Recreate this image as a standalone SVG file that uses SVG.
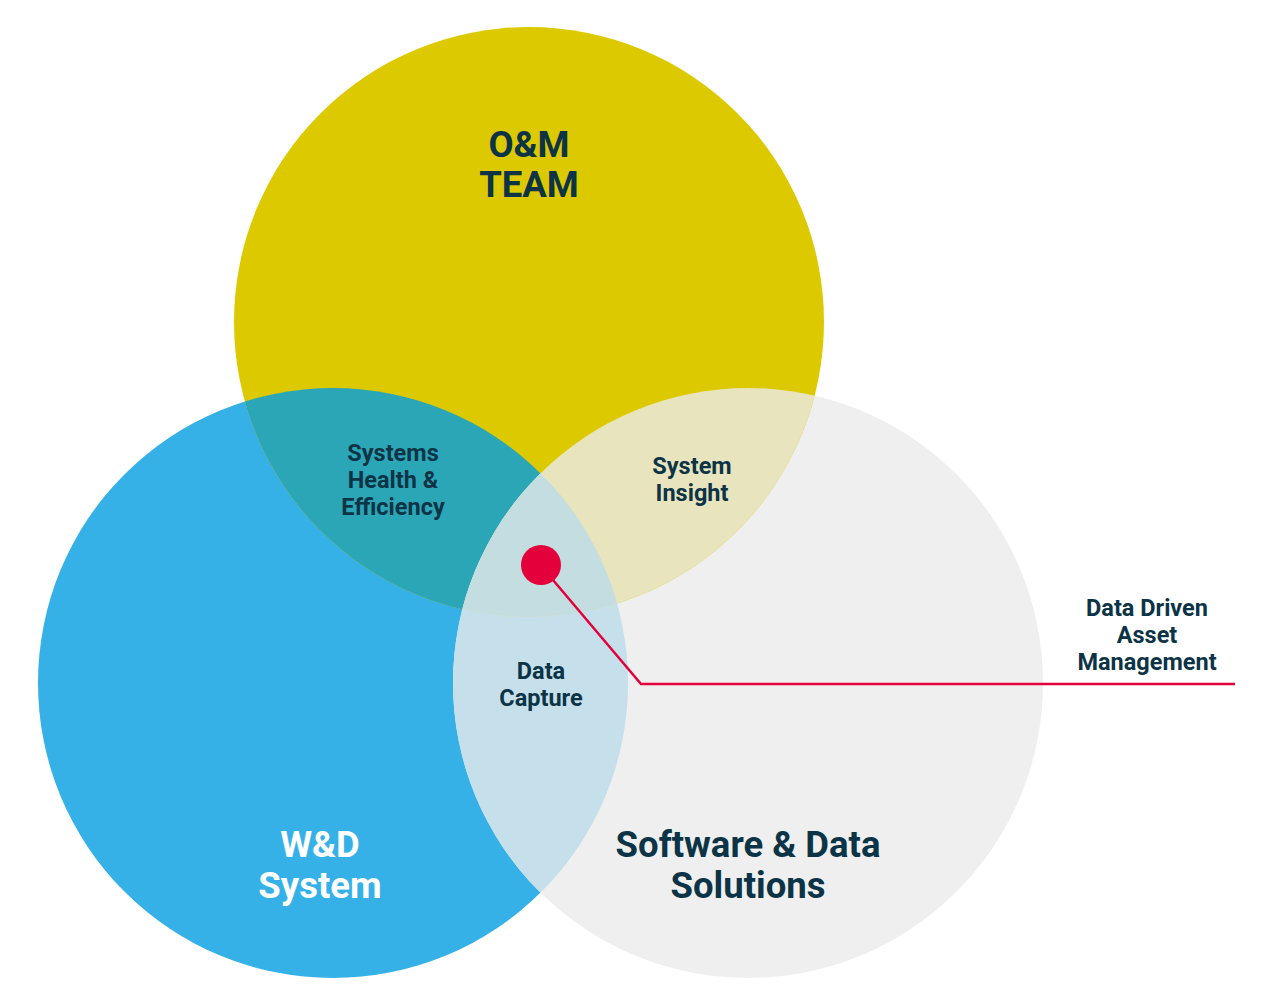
<svg xmlns="http://www.w3.org/2000/svg" width="1280" height="1006" viewBox="0 0 1280 1006">
<style>
.t{font-family:Roboto,"Liberation Sans",sans-serif;font-weight:700;fill:#0C3446;text-anchor:middle}
.s{font-size:23.5px}
.b{font-size:36.5px}
.w{fill:#FFFFFF}
</style>
<defs>
<clipPath id="cT"><circle cx="529" cy="322" r="295"/></clipPath>
<clipPath id="cB"><circle cx="333" cy="683" r="295"/></clipPath>
</defs>
<rect width="1280" height="1006" fill="#FFFFFF"/>
<g id="circle-wd"><circle cx="333" cy="683" r="295" fill="#35B1E7"/></g>
<g id="circle-software"><circle cx="748" cy="683" r="295" fill="#EFEFEF"/></g>
<g id="circle-om"><circle cx="529" cy="322" r="295" fill="#DDC900"/></g>
<g id="overlaps">
<circle cx="333" cy="683" r="295" fill="#2BA6B7" clip-path="url(#cT)"/>
<circle cx="748" cy="683" r="295" fill="#C5E0EA" clip-path="url(#cB)"/>
<circle cx="748" cy="683" r="295" fill="#E8E4BE" clip-path="url(#cT)"/>
<g clip-path="url(#cT)"><circle cx="748" cy="683" r="295" fill="#C3DDE0" clip-path="url(#cB)"/></g>
</g>
<g id="labels-om"><text class="t b" x="529" y="157">O&amp;M</text><text class="t b" x="529" y="197">TEAM</text></g>
<g id="label-health"><text class="t s" x="393" y="461">Systems</text><text class="t s" x="393" y="488">Health &amp;</text><text class="t s" x="393" y="515">Efficiency</text></g>
<g id="label-insight"><text class="t s" x="692" y="474">System</text><text class="t s" x="692" y="501">Insight</text></g>
<g id="label-capture"><text class="t s" x="541" y="679">Data</text><text class="t s" x="541" y="706">Capture</text></g>
<g id="label-wd"><text class="t b w" x="320" y="857">W&amp;D</text><text class="t b w" x="320" y="898">System</text></g>
<g id="label-software"><text class="t b" x="748" y="857">Software &amp; Data</text><text class="t b" x="748" y="898">Solutions</text></g>
<g id="connectors"><polyline points="553,580 641,684 1235,684" fill="none" stroke="#E4003A" stroke-width="2.5"/></g>
<g id="dot"><circle cx="541" cy="565" r="20" fill="#E4003A"/></g>
<g id="label-ddam"><text class="t s" x="1147" y="616">Data Driven</text><text class="t s" x="1147" y="643">Asset</text><text class="t s" x="1147" y="670">Management</text></g>
</svg>
